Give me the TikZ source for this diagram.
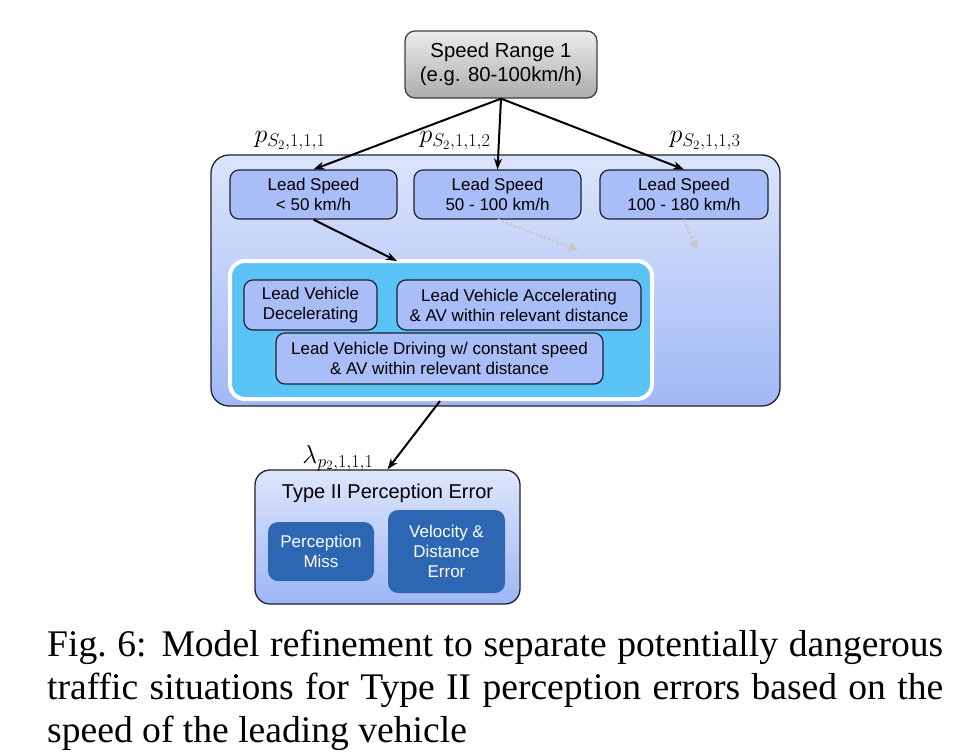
\RequirePackage{fix-cm}
\documentclass[tikz,border=0pt]{standalone}
\usepackage{fontspec}
\setmainfont{Liberation Serif}
\newfontfamily\diagfont{Liberation Sans}
\usetikzlibrary{arrows.meta}
\definecolor{boxblue}{HTML}{A9BDF8}
\definecolor{cyanfill}{HTML}{5AC3F5}
\definecolor{darkblue}{HTML}{2D67B3}
\definecolor{dotgray}{HTML}{C8C8C8}
\definecolor{edge}{HTML}{202030}
\tikzset{
  lbl/.style={font=\diagfont\fontsize{17}{20}\selectfont, align=center, inner sep=0pt},
  lightbox/.style={draw=edge, line width=1.2pt, fill=boxblue, rounded corners=9pt, lbl},
  darkbox/.style={fill=darkblue, rounded corners=10pt, lbl, text=white},
  conn/.style={line width=2pt, -{Stealth[length=11pt,width=8pt]}},
  dotconn/.style={dotgray, line width=2.5pt, dotted, -{Triangle[length=9pt,width=9pt]}},
  mlabel/.style={font=\fontsize{26}{30}\selectfont, inner sep=0pt}
}
\begin{document}
\begin{tikzpicture}[x=1pt,y=-1pt]
\useasboundingbox (0,0) rectangle (956,753);
% top box
\node[draw=black!75, line width=1.3pt, rounded corners=10pt, top color=gray!15, bottom color=gray!65,
  minimum width=192pt, minimum height=67pt, lbl, font=\diagfont\fontsize{20.3}{24}\selectfont] (top) at (501,64.5) {Speed Range 1\\(e.g. 80-100km/h)};
% outer box
\node[draw=edge, line width=1.3pt, rounded corners=18pt, top color={rgb,255:red,220;green,229;blue,252}, bottom color={rgb,255:red,162;green,184;blue,245},
  minimum width=569pt, minimum height=251pt] (outer) at (495.5,280.5) {};
% lead speed boxes
\node[lightbox, minimum width=167pt, minimum height=49pt] (ls1) at (313.5,194.5) {Lead Speed\\< 50 km/h};
\node[lightbox, minimum width=167pt, minimum height=49pt] (ls2) at (497.5,194.5) {Lead Speed\\50 - 100 km/h};
\node[lightbox, minimum width=168pt, minimum height=49pt] (ls3) at (684,194.5) {Lead Speed\\100 - 180 km/h};
% inner cyan box
\node[draw=white, line width=4pt, fill=cyanfill, rounded corners=15pt, minimum width=422pt, minimum height=138pt] (inner) at (441,330) {};
\node[lightbox, minimum width=133pt, minimum height=50pt] (dec) at (310.5,305) {Lead Vehicle\\Decelerating};
\node[lightbox, minimum width=244pt, minimum height=50pt] (acc) at (519,305) {Lead Vehicle Accelerating\\\& AV within relevant distance};
\node[lightbox, minimum width=327pt, minimum height=51pt] (drv) at (439.5,358.5) {Lead Vehicle Driving w/ constant speed\\\& AV within relevant distance};
% type II box
\node[draw=edge, line width=1.3pt, rounded corners=15pt, top color={rgb,255:red,222;green,230;blue,252}, bottom color={rgb,255:red,158;green,182;blue,245},
  minimum width=265pt, minimum height=134pt] (type2) at (387.5,537) {};
\node[lbl, font=\diagfont\fontsize{20}{24}\selectfont] (t2title) at (387.5,493) {Type II Perception Error};
\node[darkbox, minimum width=106pt, minimum height=59pt] (miss) at (321,551.5) {Perception\\Miss};
\node[darkbox, minimum width=117pt, minimum height=83pt] (vel) at (446.5,551.5) {Velocity \&\\Distance\\Error};
% connectors
\draw[conn] (top.south) -- (ls1.north);
\draw[conn] (top.south) -- (ls2.north);
\draw[conn] (top.south) -- (ls3.north);
\coordinate (c1) at (397,261);
\draw[conn] (ls1.south) -- (c1);
\coordinate (d2) at (578,250);
\coordinate (d3) at (697,250);
\draw[dotconn] (ls2.south) -- (d2);
\draw[dotconn] (ls3.south) -- (d3);
\coordinate (i1) at (440,401);
\draw[conn] (i1) -- (type2.north);
% labels
\node[mlabel] (p1) at (290,141) {$p_{S_2,1,1,1}$};
\node[mlabel] (p2) at (455,141) {$p_{S_2,1,1,2}$};
\node[mlabel] (p3) at (705,141) {$p_{S_2,1,1,3}$};
\node[mlabel] (lam) at (338,458) {$\lambda_{p_2,1,1,1}$};
% caption
\node[anchor=north west, inner sep=0pt, text width=896pt, align=justify, font=\fontsize{37.6}{43}\selectfont] (cap) at (47,630)
{Fig.~6: Model refinement to separate potentially dangerous\linebreak traffic situations for Type II perception errors based on the\linebreak speed of the leading vehicle};
\end{tikzpicture}
\end{document}
